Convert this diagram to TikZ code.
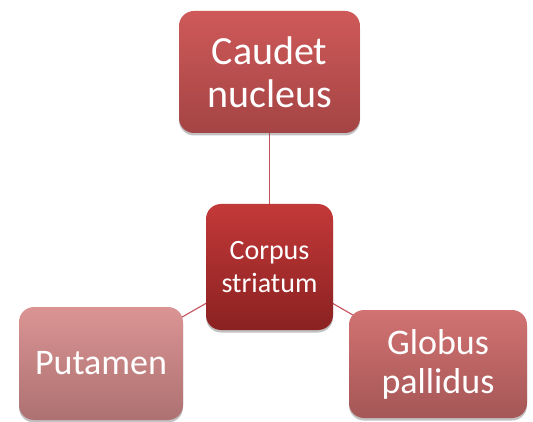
\documentclass[tikz,border=0pt]{standalone}
\usepackage{fontspec}
\setmainfont{Carlito}
\usetikzlibrary{shadows,backgrounds}

\definecolor{caudetH}{HTML}{CF5959}
\definecolor{caudetB}{HTML}{A44444}
\definecolor{corpusH}{HTML}{C33939}
\definecolor{corpusB}{HTML}{8B2121}
\definecolor{putamenH}{HTML}{DB9494}
\definecolor{putamenB}{HTML}{AD7171}
\definecolor{globusH}{HTML}{D27272}
\definecolor{globusB}{HTML}{A55656}
\definecolor{lienrouge}{HTML}{C4505A}

\begin{document}
\begin{tikzpicture}[x=1pt,y=-1pt,
    boite/.style={rounded corners=15pt, text=white, align=center, inner sep=0pt,
        drop shadow={shadow xshift=0pt, shadow yshift=-2.5pt, opacity=0.35, fill=black!70}},
    lien/.style={draw=lienrouge, line width=1.1pt}]

    % --- Cadre de l'image ---
    \useasboundingbox (0,0) rectangle (533,422);

    % --- Les quatre boites ---
    \node[boite, top color=caudetH, bottom color=caudetB, minimum width=181pt, minimum height=122pt,
        font=\fontsize{40}{43}\selectfont] (caudet) at (269.5,72) {Caudet\\nucleus};
    \node[boite, top color=corpusH, bottom color=corpusB, minimum width=127pt, minimum height=126pt,
        font=\fontsize{28}{33}\selectfont] (corpus) at (269.5,267) {Corpus\\striatum};
    \node[boite, top color=putamenH, bottom color=putamenB, minimum width=164pt, minimum height=113pt,
        font=\fontsize{36}{40}\selectfont] (putamen) at (101,363.5) {Putamen};
    \node[boite, top color=globusH, bottom color=globusB, minimum width=178pt, minimum height=108pt,
        font=\fontsize{36}{39}\selectfont] (globus) at (438,364) {Globus\\pallidus};

    % --- Liens vers le centre ---
    \begin{scope}[on background layer]
        \foreach \b in {caudet, putamen, globus}
            \draw[lien] (corpus.center) -- (\b.center);
    \end{scope}

\end{tikzpicture}
\end{document}
